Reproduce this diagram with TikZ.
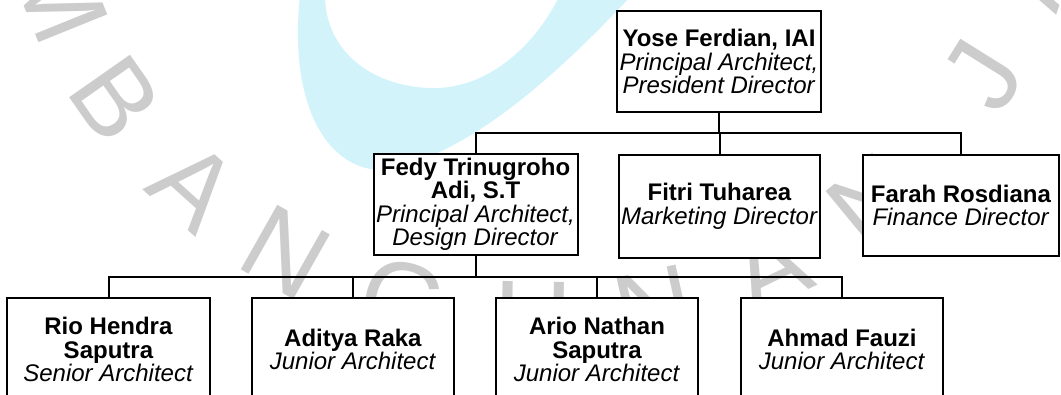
\documentclass[tikz,border=0pt]{standalone}
\usepackage{fontspec}
\setmainfont{Liberation Sans}
\usetikzlibrary{calc}
\definecolor{wmcyan}{RGB}{211,243,251}
\definecolor{wmgray}{RGB}{204,204,204}
\begin{document}
\begin{tikzpicture}[x=1pt,y=-1pt,
  box/.style={draw=black, line width=2pt, fill=white, align=center, inner sep=0pt,
    font=\fontsize{24}{23.5}\selectfont},
  conn/.style={draw=black, line width=2pt},
  wm/.style={text=wmgray, font=\fontsize{108}{108}\selectfont, inner sep=0pt}]
\useasboundingbox (0,0) rectangle (1061,394);
\clip (0,0) rectangle (1061,394);
% watermark
\fill[wmcyan] (300,-5) .. controls (288,110) and (330,172) .. (385,170)
  .. controls (470,155) and (560,72) .. (632,-5) -- (560,-5)
  .. controls (530,55) and (480,90) .. (430,88)
  .. controls (370,86) and (325,50) .. (325,-5) -- cycle;
\foreach \ch/\ang [count=\i] in {M/-158,B/-145,A/-132,N/-119.5,G/-105.5,U/-91,N/-77.5,A/-64,N/-50.5,J/-32,A/-19}
  \node[wm, rotate=\ang+90] (wm\i) at ({541.8+520*cos(\ang)},{-200-520*sin(\ang)}) {\ch};
% boxes
\node[box, minimum width=204pt, minimum height=101pt] (yose) at (719,61.5)
  {\textbf{Yose Ferdian, IAI}\\\textit{Principal Architect,}\\\textit{President Director}};
\node[box, minimum width=204pt, minimum height=101pt] (fedy) at (475.5,204.5)
  {\textbf{Fedy Trinugroho}\\\textbf{Adi, S.T}\\\textit{Principal Architect,}\\\textit{Design Director}};
\node[box, minimum width=201pt, minimum height=103pt] (fitri) at (719.5,206.5)
  {\textbf{Fitri Tuharea}\\\textit{Marketing Director}};
\node[box, minimum width=196pt, minimum height=101pt] (farah) at (961,205.5)
  {\textbf{Farah Rosdiana}\\\textit{Finance Director}};
\node[box, minimum width=203pt, minimum height=103pt] (rio) at (108.5,349.5)
  {\textbf{Rio Hendra}\\\textbf{Saputra}\\\textit{Senior Architect}};
\node[box, minimum width=202pt, minimum height=103pt] (aditya) at (353,349.5)
  {\textbf{Aditya Raka}\\\textit{Junior Architect}};
\node[box, minimum width=202pt, minimum height=103pt] (ario) at (597,349.5)
  {\textbf{Ario Nathan}\\\textbf{Saputra}\\\textit{Junior Architect}};
\node[box, minimum width=202pt, minimum height=103pt] (ahmad) at (842,349.5)
  {\textbf{Ahmad Fauzi}\\\textit{Junior Architect}};
% connectors
\coordinate (bar1) at (719,133);
\coordinate (bar2) at (475,277);
\foreach \c in {fedy,fitri,farah}
  \draw[conn] (yose.south) -- (yose.south |- bar1) -| (\c.north);
\foreach \c in {rio,aditya,ario,ahmad}
  \draw[conn] (fedy.south) -- (fedy.south |- bar2) -| (\c.north);
\end{tikzpicture}
\end{document}
